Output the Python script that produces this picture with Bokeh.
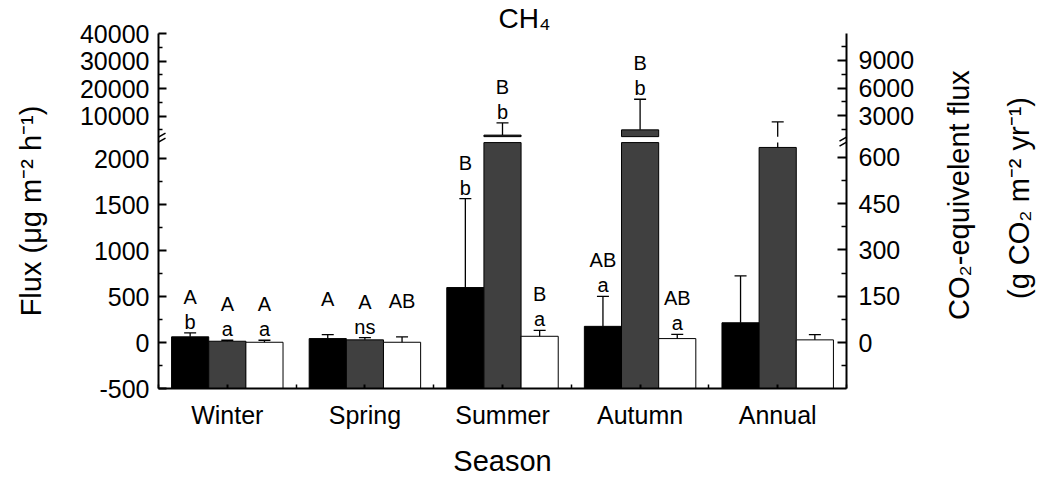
import numpy as np
from bokeh.plotting import figure
from bokeh.layouts import row
from bokeh.models import Range1d, LinearAxis, FixedTicker, CustomJSTickFormatter, Arrow
from bokeh.core.properties import value
from bokeh.embed import file_html
from bokeh.resources import INLINE

# ---------------- data ----------------
seasons = ["Winter", "Spring", "Summer", "Autumn", "Annual"]

black_mean = [62, 43, 598, 176, 215]
black_err = [43, 44, 967, 327, 510]
grey_mean = [14, 29, 3050, 4960, 2122]
grey_err = [11, 25, 4430, 11140, 5720]
white_mean = [3, 3, 68, 43, 29]
white_err = [22, 58, 64, 46, 57]

black_upper = ["A", "A", "B", "AB", ""]
black_lower = ["b", "", "b", "a", ""]
grey_upper = ["A", "A", "B", "B", ""]
grey_lower = ["a", "ns", "b", "b", ""]
white_upper = ["A", "AB", "B", "AB", ""]
white_lower = ["a", "", "a", "a", ""]

flux_ticks_low = [-500, 0, 500, 1000, 1500, 2000]
flux_minor_low = [-250, 250, 750, 1250, 1750]
flux_ticks_high = [10000, 20000, 30000, 40000]
flux_minor_high = [5000, 15000, 25000, 35000]
co2_ticks_low = [0, 150, 300, 450, 600]
co2_minor_low = [-75, 75, 225, 375, 525]
co2_ticks_high = [3000, 6000, 9000]
co2_minor_high = [1500, 4500, 7500, 10500]

right_title_lines = ["CO\u2082-equivelent flux", "(g CO\u2082 m\u207b\u00b2 yr\u207b\u00b9)"]

GWP = 34
CO2_FACTOR = GWP * 8760 * 1e-6   # ug m-2 h-1  ->  g CO2 m-2 yr-1

LOW = (-500, 2175)     # lower segment of broken axis
HIGH = (2500, 40000)   # upper segment of broken axis

# ---------------- layout ----------------
W, H = 1044, 479
W1 = 918                       # main figure width, the rest holds the right-hand title
FL, FT, FW, FH = 158, 32, 688, 358
LOW_PX, HIGH_PX = 248, 104
FONT = "Liberation Sans"

R0 = LOW[0]
R1 = LOW[0] + (LOW[1] - LOW[0]) * FH / LOW_PX
U1 = HIGH[1]
U0 = HIGH[1] - (HIGH[1] - HIGH[0]) * FH / HIGH_PX
X0, X1 = 0.5, 5.5


def high_to_main(u):
    return R0 + (u - U0) / (U1 - U0) * (R1 - R0)


BRK = (LOW[1] + high_to_main(HIGH[0])) / 2.0


def px_to_x(px):
    return X0 + (px - FL) / FW * (X1 - X0)


def py_to_y(py):
    return R1 - (py - FT) / FH * (R1 - R0)


fig = figure(width=W1, height=H, x_range=Range1d(X0, X1), y_range=Range1d(R0, R1),
             output_backend="svg", toolbar_location=None, tools="",
             min_border_left=FL, min_border_top=FT,
             min_border_right=W1 - FL - FW, min_border_bottom=H - FT - FH)
fig.extra_y_ranges = {"high": Range1d(U0, U1)}
fig.grid.visible = False
fig.outline_line_color = None
fig.background_fill_color = "white"
fig.border_fill_color = "white"

fig.title.text = "CH\u2084"
fig.title.align = "left"
fig.title.text_font = FONT
fig.title.text_font_size = "28px"
fig.title.text_font_style = "normal"
fig.title.text_color = "black"
fig.title.offset = 340
fig.title.standoff = 0


def style_axis(ax, tick_in, minor_in):
    ax.axis_line_color = "black"
    ax.axis_line_width = 2
    ax.major_tick_in = tick_in
    ax.major_tick_out = 0
    ax.minor_tick_in = minor_in
    ax.minor_tick_out = 0
    ax.major_tick_line_width = 2
    ax.minor_tick_line_width = 1.5
    ax.major_tick_line_color = "black"
    ax.minor_tick_line_color = "black"
    ax.major_label_text_font = FONT
    ax.major_label_text_font_size = "25px"
    ax.major_label_text_color = "black"
    ax.axis_label_text_font = FONT
    ax.axis_label_text_font_size = "29px"
    ax.axis_label_text_font_style = "normal"
    ax.axis_label_text_color = "black"


# x axis
xa = fig.xaxis[0]
xa.ticker = FixedTicker(ticks=[1, 2, 3, 4, 5], minor_ticks=[0.5, 1.5, 2.5, 3.5, 4.5, 5.5])
xa.major_label_overrides = {i + 1: s for i, s in enumerate(seasons)}
style_axis(xa, 4, 4)
xa.major_label_standoff = 12
xa.axis_label = "Season"
xa.axis_label_standoff = 13

# left axis (broken)
ya = fig.yaxis[0]
ya.ticker = FixedTicker(
    ticks=flux_ticks_low + [high_to_main(u) for u in flux_ticks_high],
    minor_ticks=flux_minor_low + [high_to_main(u) for u in flux_minor_high])
ya.formatter = CustomJSTickFormatter(code=f"""
if (tick > {BRK}) {{
  return String(Math.round({U0} + (tick - ({R0})) / ({R1} - ({R0})) * ({U1} - ({U0}))));
}}
return String(Math.round(tick));
""")
style_axis(ya, 8, 4)
ya.major_label_standoff = 9
ya.axis_label = "Flux (\u03bcg m\u207b\u00b2 h\u207b\u00b9)"
ya.axis_label_standoff = 30

# right axis (CO2 equivalent, broken)
ra = LinearAxis(
    ticker=FixedTicker(
        ticks=[c / CO2_FACTOR for c in co2_ticks_low] +
              [high_to_main(c / CO2_FACTOR) for c in co2_ticks_high],
        minor_ticks=[c / CO2_FACTOR for c in co2_minor_low] +
                    [high_to_main(c / CO2_FACTOR) for c in co2_minor_high]),
    formatter=CustomJSTickFormatter(code=f"""
let v = tick;
if (tick > {BRK}) {{
  v = {U0} + (tick - ({R0})) / ({R1} - ({R0})) * ({U1} - ({U0}));
}}
return String(Math.round(v * {CO2_FACTOR}));
"""))
style_axis(ra, 9, 5)
ra.major_label_standoff = 12
fig.add_layout(ra, "right")

# ---------------- bars ----------------
BAR_W = 0.27
CAP = 12
x = np.arange(1, len(seasons) + 1, dtype=float)
series = [
    (black_mean, black_err, "#000000", -1, black_upper, black_lower),
    (grey_mean, grey_err, "#404040", 0, grey_upper, grey_lower),
    (white_mean, white_err, "#ffffff", 1, white_upper, white_lower),
]
txt = dict(text_font=value(FONT), text_font_size="20px", text_align="center",
           text_baseline="alphabetic", text_color="black")

for mean, err, color, k, up_l, lo_l in series:
    xs = x + k * BAR_W
    m = np.array(mean, dtype=float)
    e = np.array(err, dtype=float)
    top = m + e
    # lower part of bar (bars rise from the bottom of the axis)
    fig.vbar(x=xs, width=BAR_W, bottom=LOW[0], top=np.minimum(m, LOW[1]),
             fill_color=color, line_color="black", line_width=1)
    hi = m > HIGH[0]
    if hi.any():
        fig.vbar(x=xs[hi], width=BAR_W, bottom=HIGH[0], top=m[hi], y_range_name="high",
                 fill_color=color, line_color="black", line_width=1)
    # error bars
    lo = m < LOW[1]
    fig.segment(x0=xs[lo], y0=m[lo], x1=xs[lo], y1=np.minimum(top[lo], LOW[1]),
                line_color="black", line_width=1.3)
    capl = top <= LOW[1]
    fig.scatter(x=xs[capl], y=top[capl], marker="dash", size=CAP,
                line_color="black", line_width=1.3)
    eu = top > HIGH[0]
    if eu.any():
        fig.segment(x0=xs[eu], y0=np.maximum(m[eu], HIGH[0]), x1=xs[eu], y1=top[eu],
                    y_range_name="high", line_color="black", line_width=1.3)
        fig.scatter(x=xs[eu], y=top[eu], marker="dash", size=CAP, y_range_name="high",
                    line_color="black", line_width=1.3)
    # significance letters
    up_arr = np.array(up_l)
    lo_arr = np.array(lo_l)
    fig.text(x=xs[capl], y=top[capl], text=list(lo_arr[capl]), y_offset=-11, **txt)
    fig.text(x=xs[capl], y=top[capl], text=list(up_arr[capl]), y_offset=-36, **txt)
    if eu.any():
        fig.text(x=xs[eu], y=top[eu], text=list(lo_arr[eu]), y_offset=-11,
                 y_range_name="high", **txt)
        fig.text(x=xs[eu], y=top[eu], text=list(up_arr[eu]), y_offset=-36,
                 y_range_name="high", **txt)

# ---------------- axis break marks ----------------
gap_mid = FT + HIGH_PX + (FH - LOW_PX - HIGH_PX) / 2.0
for xpx in (FL, FL + FW):
    for dy in (-2.5, 2.5):
        fig.add_layout(Arrow(end=None, x_start=px_to_x(xpx - 7), y_start=py_to_y(gap_mid + dy + 4),
                             x_end=px_to_x(xpx + 7), y_end=py_to_y(gap_mid + dy - 4),
                             line_color="black", line_width=1.5))

# ---------------- right-hand title (two rotated lines) ----------------
W2 = W - W1
side = figure(width=W2, height=H, x_range=Range1d(0, W2), y_range=Range1d(0, H),
              output_backend="svg", toolbar_location=None, tools="",
              min_border=0, min_border_left=0, min_border_right=0,
              min_border_top=0, min_border_bottom=0,
              x_axis_location=None, y_axis_location=None)
side.grid.visible = False
side.outline_line_color = None
side.background_fill_color = "white"
side.border_fill_color = "white"
side.text(x=[958 - W1, 1018 - W1], y=[H - 218, H - 222], text=right_title_lines,
          angle=np.pi / 2, text_font=value(FONT), text_font_size="29px",
          text_align="center", text_baseline="alphabetic", text_color="black")

layout = row(fig, side)
open("out.html", "w").write(file_html(layout, INLINE))
